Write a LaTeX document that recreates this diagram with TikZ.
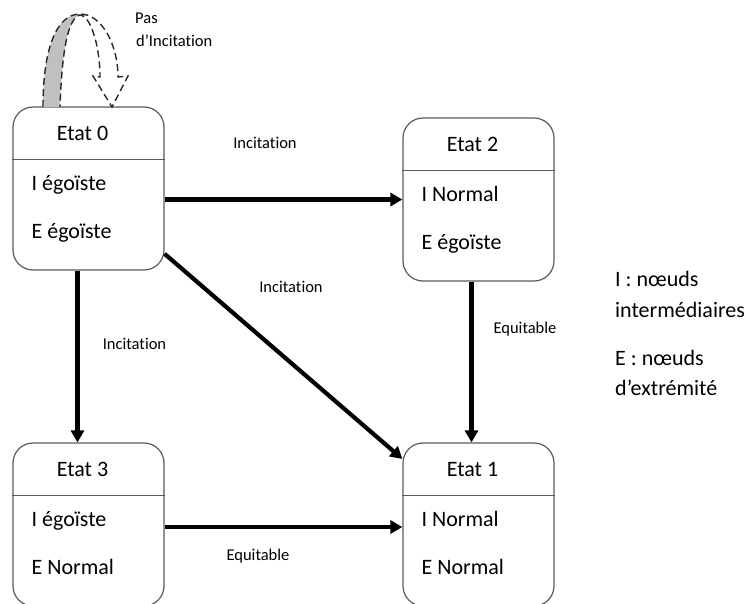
\documentclass[tikz,border=0pt]{standalone}
\usepackage{fontspec}
\setmainfont{Carlito}[Ligatures=NoCommon]
\usetikzlibrary{arrows.meta}
\definecolor{boxgray}{RGB}{90,90,90}
\definecolor{bandgray}{RGB}{192,192,192}
\definecolor{loopdark}{RGB}{40,40,40}
\tikzset{
  etat/.style={rectangle, draw=boxgray, rounded corners=20pt,
    minimum width=151pt, minimum height=163pt, inner sep=0pt,
    line width=1.2pt},
  sep/.style={draw=boxgray, line width=1.2pt},
  titre/.style={font=\fontsize{22}{26}\selectfont, anchor=base, inner sep=0pt},
  ligne/.style={font=\fontsize{22}{26}\selectfont, anchor=base west, inner sep=0pt},
  lbl/.style={font=\fontsize{16.5}{20}\selectfont, anchor=base, inner sep=0pt},
  legende/.style={font=\fontsize{22}{26}\selectfont, anchor=base west, inner sep=0pt},
  fleche/.style={-{Triangle[length=12pt,width=13pt]}, line width=4.2pt, draw=black},
  boucle/.style={dash pattern=on 7pt off 4pt, line width=1.4pt, draw=loopdark}
}

\begin{document}
\begin{tikzpicture}[x=1pt,y=-1pt]
  \useasboundingbox (0,0) rectangle (750,604);
  \clip (0,0) rectangle (750,604);
  % States
  \node[etat] (e0) at (88.5,188.5) {};
  \node[etat] (e2) at (478.5,199.5) {};
  \node[etat] (e3) at (88.5,524.5) {};
  \node[etat] (e1) at (478.5,524.5) {};
  % Dividers
  \draw[sep] ([yshift=-53pt]e0.north west) -- ([yshift=-53pt]e0.north east);
  \draw[sep] ([yshift=-53pt]e2.north west) -- ([yshift=-53pt]e2.north east);
  \draw[sep] ([yshift=-53pt]e3.north west) -- ([yshift=-53pt]e3.north east);
  \draw[sep] ([yshift=-53pt]e1.north west) -- ([yshift=-53pt]e1.north east);
  % Etat 0
  \node[titre] (e0t) at ([xshift=-6pt,yshift=-34pt]e0.north) {Etat 0};
  \node[ligne] (e0a) at ([xshift=19pt,yshift=-84pt]e0.north west) {I égoïste};
  \node[ligne] (e0b) at ([xshift=19pt,yshift=-132pt]e0.north west) {E égoïste};
  % Etat 2
  \node[titre] (e2t) at ([xshift=-6pt,yshift=-34pt]e2.north) {Etat 2};
  \node[ligne] (e2a) at ([xshift=19pt,yshift=-84pt]e2.north west) {I Normal};
  \node[ligne] (e2b) at ([xshift=19pt,yshift=-132pt]e2.north west) {E égoïste};
  % Etat 3
  \node[titre] (e3t) at ([xshift=-6pt,yshift=-34pt]e3.north) {Etat 3};
  \node[ligne] (e3a) at ([xshift=19pt,yshift=-84pt]e3.north west) {I égoïste};
  \node[ligne] (e3b) at ([xshift=19pt,yshift=-132pt]e3.north west) {E Normal};
  % Etat 1
  \node[titre] (e1t) at ([xshift=-6pt,yshift=-34pt]e1.north) {Etat 1};
  \node[ligne] (e1a) at ([xshift=19pt,yshift=-84pt]e1.north west) {I Normal};
  \node[ligne] (e1b) at ([xshift=19pt,yshift=-132pt]e1.north west) {E Normal};
  % Transitions
  \draw[fleche] (e0.east |- e2.west) -- (e2.west);
  \draw[fleche] ([xshift=-11pt]e0.south) -- ([xshift=-11pt]e3.north);
  \draw[fleche] (e0) -- (e1);
  \draw[fleche] ([xshift=-7pt]e2.south) -- ([xshift=-7pt]e1.north);
  \draw[fleche] ([yshift=-2.5pt]e3.east) -- ([yshift=-2.5pt]e1.west);
  % Labels
  \node[lbl] (l02) at (265,149) {Incitation};
  \node[lbl] (l01) at (291,293) {Incitation};
  \node[lbl] (l03) at (134.5,349) {Incitation};
  \node[lbl] (l21) at (525,334) {Equitable};
  \node[lbl] (l31) at (258,560) {Equitable};
  % Self loop on Etat 0
  \fill[bandgray] (43,107) .. controls (43,45) and (58,14) .. (80,14)
    -- (80,15) .. controls (68,18) and (62,50) .. (60,107) -- cycle;
  \draw[boucle] (43,107) .. controls (43,45) and (58,14) .. (80,14)
    .. controls (102,14) and (118,45) .. (118,77) -- (128,76) -- (112,107)
    -- (93,76) -- (100,77) .. controls (100,45) and (90,15) .. (80,15)
    .. controls (68,18) and (62,50) .. (60,107);
  \node[lbl, anchor=base west] (lpas) at (135,24) {Pas};
  \node[lbl, anchor=base west] (lpas2) at (136,47) {d’Incitation};
  % Legend
  \node[legende] (leg1) at (615,287) {I : nœuds};
  \node[legende] (leg2) at (615,317) {intermédiaires};
  \node[legende] (leg3) at (615,365) {E : nœuds};
  \node[legende] (leg4) at (615,395) {d’extrémité};
\end{tikzpicture}
\end{document}
